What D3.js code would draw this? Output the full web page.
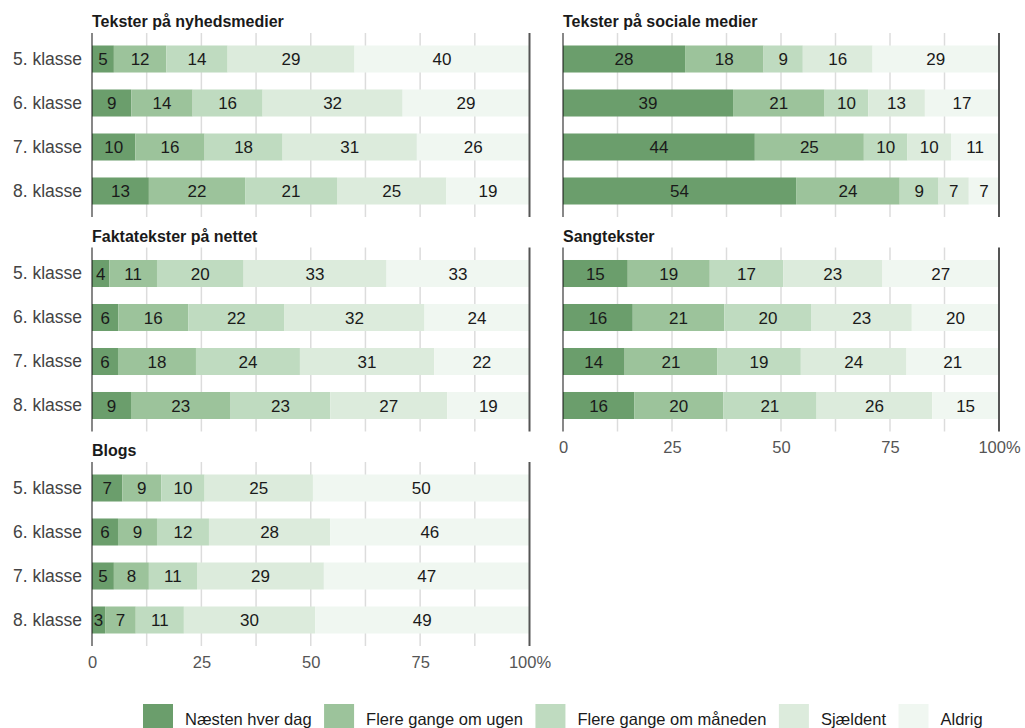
<!DOCTYPE html>
<html>
<head>
<meta charset="utf-8">
<script src="https://cdn.jsdelivr.net/npm/d3@7"></script>
<style>
  html, body { margin: 0; padding: 0; background: #fff; }
  svg { display: block; font-family: "Liberation Sans", Arial, Helvetica, sans-serif; }
</style>
</head>
<body>
<svg id="chart" width="1025" height="728"></svg>
<script>
// Answer categories (stack order, left to right)
const categories = ["Næsten hver dag", "Flere gange om ugen", "Flere gange om måneden", "Sjældent", "Aldrig"];
const grades = ["5. klasse", "6. klasse", "7. klasse", "8. klasse"];
const colors = ["#6b9e6c", "#9cc39b", "#bfdbc0", "#dcebdc", "#f0f7f1"];

// Percent of pupils per grade, one inner array per grade
const nyhedsmedier = [[5, 12, 14, 29, 40], [9, 14, 16, 32, 29], [10, 16, 18, 31, 26], [13, 22, 21, 25, 19]];
const socialeMedier = [[28, 18, 9, 16, 29], [39, 21, 10, 13, 17], [44, 25, 10, 10, 11], [54, 24, 9, 7, 7]];
const faktatekster = [[4, 11, 20, 33, 33], [6, 16, 22, 32, 24], [6, 18, 24, 31, 22], [9, 23, 23, 27, 19]];
const sangtekster = [[15, 19, 17, 23, 27], [16, 21, 20, 23, 20], [14, 21, 19, 24, 21], [16, 20, 21, 26, 15]];
const blogs = [[7, 9, 10, 25, 50], [6, 9, 12, 28, 46], [5, 8, 11, 29, 47], [3, 7, 11, 30, 49]];

const panelTitles = ["Tekster på nyhedsmedier", "Tekster på sociale medier", "Faktatekster på nettet", "Sangtekster", "Blogs"];
const panelData = [nyhedsmedier, socialeMedier, faktatekster, sangtekster, blogs];
const tickValues = [0, 25, 50, 75, 100];

const svg = d3.select("#chart");

const cols = [{ x0: 92, x1: 529.5 }, { x0: 563, x1: 999 }];
const panelTop = i => 33 + i * 214.5;
const panelH = 184;

panelData.forEach((rows, p) => {
  const col = cols[p % 2];
  const rowIdx = Math.floor(p / 2);
  const top = panelTop(rowIdx);

  const x = d3.scaleLinear().domain([0, 100]).range([col.x0, col.x1]);
  const y = d3.scaleBand().domain(grades).range([top, top + panelH])
    .paddingInner(0.386).paddingOuter(0.284);

  const g = svg.append("g");

  // grid lines every 12.5
  g.append("g").selectAll("line")
    .data(d3.range(12.5, 100, 12.5))
    .join("line")
    .attr("x1", d => x(d)).attr("x2", d => x(d))
    .attr("y1", top).attr("y2", top + panelH)
    .attr("stroke", "#dcdcdc").attr("stroke-width", 1.5);

  // stacked segments, each row scaled to fill 100 %
  const stacked = rows.map((vals, r) => {
    const total = d3.sum(vals);
    let acc = 0;
    return vals.map((v, k) => {
      const s = acc; acc += v / total * 100;
      return { grade: grades[r], k, v, s, e: acc };
    });
  }).flat();

  g.append("g").selectAll("rect")
    .data(stacked)
    .join("rect")
    .attr("x", d => x(d.s))
    .attr("width", d => x(d.e) - x(d.s))
    .attr("y", d => y(d.grade))
    .attr("height", y.bandwidth())
    .attr("fill", d => colors[d.k]);

  g.append("g").selectAll("text")
    .data(stacked)
    .join("text")
    .attr("x", d => (x(d.s) + x(d.e)) / 2)
    .attr("y", d => y(d.grade) + y.bandwidth() / 2)
    .attr("dy", "0.36em")
    .attr("text-anchor", "middle")
    .attr("font-size", 17)
    .attr("fill", "#1a1a1a")
    .text(d => d.v);

  // zero axis and 100 % boundary
  g.append("line")
    .attr("x1", x(0)).attr("x2", x(0))
    .attr("y1", top).attr("y2", top + panelH)
    .attr("stroke", "#111").attr("stroke-width", 1);
  g.append("line")
    .attr("x1", x(100)).attr("x2", x(100))
    .attr("y1", top).attr("y2", top + panelH)
    .attr("stroke", "#555").attr("stroke-width", 2);

  // panel title
  g.append("text")
    .attr("x", col.x0).attr("y", top - 6)
    .attr("font-size", 16).attr("font-weight", "bold")
    .attr("fill", "#1a1a1a")
    .text(panelTitles[p]);

  // grade labels on the left column only
  if (p % 2 === 0) {
    const yAxis = d3.axisLeft(y).tickSize(0).tickPadding(10);
    const ya = g.append("g").attr("transform", `translate(${col.x0},0)`).call(yAxis);
    ya.select(".domain").remove();
    ya.selectAll("text").attr("font-size", 17.5).attr("fill", "#444")
      .attr("font-family", "Liberation Sans, Arial, sans-serif");
  }

  // bottom value axis under the last panel of each column
  const isLast = (p === 4) || (p === 3);
  if (isLast) {
    const xAxis = d3.axisBottom(x).tickValues(tickValues).tickSize(0).tickPadding(10)
      .tickFormat(d => d === 100 ? "100%" : d);
    const xa = g.append("g").attr("transform", `translate(0,${top + panelH})`).call(xAxis);
    xa.select(".domain").remove();
    xa.selectAll("text").attr("font-size", 16.5).attr("fill", "#555")
      .attr("font-family", "Liberation Sans, Arial, sans-serif");
  }
});

// legend along the bottom
const legend = svg.append("g").attr("transform", "translate(143,704)");
let lx = 0;
categories.forEach((c, i) => {
  const item = legend.append("g").attr("transform", `translate(${lx},0)`);
  item.append("rect").attr("width", 30).attr("height", 30).attr("fill", colors[i]);
  const t = item.append("text")
    .attr("x", 42).attr("y", 15).attr("dy", "0.35em")
    .attr("font-size", 16.5).attr("fill", "#1a1a1a")
    .text(c);
  lx += 42 + t.node().getComputedTextLength() + 12.5;
});
</script>
</body>
</html>
